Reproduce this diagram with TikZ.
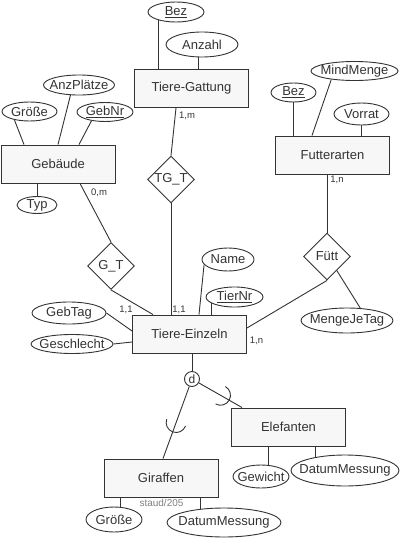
\documentclass[tikz,border=0pt]{standalone}
\usepackage{fontspec}
\setmainfont{Liberation Sans}
\usetikzlibrary{shapes.geometric,calc}
\definecolor{ink}{HTML}{333333}

\begin{document}
\begin{tikzpicture}[x=1pt, y=-1pt, color=ink, line width=0.9pt,
  font=\fontsize{13}{15}\selectfont,
  entity/.style={draw, fill=gray!6, minimum width=114pt, minimum height=38pt, inner sep=0pt},
  rel/.style={draw, diamond, fill=white, minimum width=47pt, minimum height=47pt, inner sep=0pt},
  attrib/.style={draw, ellipse, inner sep=0pt, label={center:#1}},
  card/.style={font=\fontsize{9.5}{10}\selectfont, inner sep=0pt},
  disjoint/.style={draw, circle, minimum size=15pt, inner sep=0pt, font=\fontsize{12}{12}\selectfont}]
  \useasboundingbox (0,0) rectangle (400,538);

  % Entities
  \node[entity] (gattung) at (191.5,88.5) {Tiere-Gattung};
  \node[entity] (gebaeude) at (58,164) {Gebäude};
  \node[entity] (futter) at (332.5,155) {Futterarten};
  \node[entity] (einzeln) at (189.5,334) {Tiere-Einzeln};
  \node[entity] (giraffen) at (161,478) {Giraffen};
  \node[entity] (elefanten) at (288.5,427) {Elefanten};

  % Relationships
  \node[rel] (tgt) at (171,179.5) {TG\_T};
  \node[rel] (gt) at (111,266) {G\_T};
  \node[rel] (futt) at (327,256.5) {Fütt};

  % Attributes
  \node[attrib={\underline{Bez}}, minimum width=56pt, minimum height=20pt] (bezg) at (176,12) {};
  \node[attrib=Anzahl, minimum width=72pt, minimum height=25pt] (anzahl) at (202,44.5) {};
  \node[attrib=AnzPlätze, minimum width=71pt, minimum height=20pt] (anzpl) at (79,85) {};
  \node[attrib=Größe, minimum width=55pt, minimum height=19pt] (groesse) at (29.5,111.5) {};
  \node[attrib={\underline{GebNr}}, minimum width=56pt, minimum height=19pt] (gebnr) at (105,112) {};
  \node[attrib=Typ, minimum width=40pt, minimum height=17pt] (typ) at (37,205) {};
  \node[attrib={\underline{Bez}}, minimum width=45pt, minimum height=19pt] (bezf) at (293.5,92.5) {};
  \node[attrib=MindMenge, minimum width=87pt, minimum height=19pt] (mindmenge) at (354.5,71) {};
  \node[attrib=Vorrat, minimum width=55pt, minimum height=22pt] (vorrat) at (361.5,114) {};
  \node[attrib=Name, minimum width=52pt, minimum height=23pt] (name) at (228,259.5) {};
  \node[attrib={\underline{TierNr}}, minimum width=57pt, minimum height=20pt] (tiernr) at (234.5,297) {};
  \node[attrib=MengeJeTag, minimum width=92pt, minimum height=25pt] (mengejetag) at (347,320.5) {};
  \node[attrib=GebTag, minimum width=74pt, minimum height=22pt] (gebtag) at (69,313) {};
  \node[attrib=Geschlecht, minimum width=82pt, minimum height=19pt] (geschlecht) at (72,344) {};
  \node[attrib=Größe, minimum width=56pt, minimum height=25pt] (groesseg) at (114,519.5) {};
  \node[attrib=DatumMessung, minimum width=114pt, minimum height=29pt] (datumg) at (224,522.5) {};
  \node[attrib=Gewicht, minimum width=56pt, minimum height=23pt] (gewicht) at (261,476.5) {};
  \node[attrib=DatumMessung, minimum width=108pt, minimum height=31pt] (datume) at (345,470.5) {};

  % Specialisation circle
  \node[disjoint] (dcirc) at (192,379) {d};

  % Attribute lines
  \draw (bezg.205) -- (bezg.205 |- gattung.north);
  \draw (anzahl.256) -- (anzahl.256 |- gattung.north);
  \draw (anzpl.230) -- (gebaeude.north);
  \draw (groesse.209) -- ([xshift=-34pt]gebaeude.north);
  \draw (gebnr.213) -- ([xshift=21pt]gebaeude.north);
  \draw (typ) -- (typ |- gebaeude.south);
  \draw (bezf) -- (bezf |- futter.north);
  \draw (mindmenge.200) -- ([xshift=-20.5pt]futter.north);
  \draw (vorrat) -- (vorrat |- futter.north);
  \draw (name.192) -- ([xshift=9.5pt]einzeln.north);
  \draw (tiernr.195) -- (tiernr.195 |- einzeln.north);
  \draw (gebtag.east) -- ([yshift=3pt]einzeln.west);
  \draw (geschlecht.east) -- ([yshift=-8pt]einzeln.west);
  \draw (futt.305) -- (mengejetag.43);
  \draw (groesseg.64) -- (groesseg.64 |- giraffen.south);
  \draw (datumg.150) -- (datumg.150 |- giraffen.south);
  \draw (gewicht.58) -- (gewicht.58 |- elefanten.south);
  \draw (datume.156) -- (datume.156 |- elefanten.south);

  % Relationship lines
  \draw ([xshift=22pt]gebaeude.south) -- (gt.north);
  \draw (gt.south) -- ([xshift=-36.5pt]einzeln.north);
  \draw ([xshift=-15.5pt]gattung.south) -- (tgt.north);
  \draw (tgt.south) -- (tgt.south |- einzeln.north);
  \draw (futt.north |- futter.south) -- (futt.north);
  \draw (futt.south) -- ([yshift=6pt]einzeln.east);

  % Cardinalities
  \node[card] (cgeb) at (99,192.5) {0,m};
  \node[card] (cgt) at (126,309.5) {1,1};
  \node[card] (cgatt) at (187,116) {1,m};
  \node[card] (ctgt) at (179,309.5) {1,1};
  \node[card] (cfutter) at (337,180) {1,n};
  \node[card] (cfutt) at (256.5,341) {1,n};

  % Subclasses
  \draw (dcirc) -- (dcirc |- einzeln.south);
  \draw (dcirc) -- coordinate[pos=0.5] (subg) ([xshift=2pt]giraffen.north);
  \draw (dcirc) -- coordinate[pos=0.5] (sube) ([xshift=11pt]elefanten.north west);
  \draw (subg) ++(160:10pt) arc[start angle=160, end angle=340, radius=10pt];
  \draw (sube) ++(241:10pt) arc[start angle=241, end angle=421, radius=10pt];
  \node[card, text=gray, font=\fontsize{10}{11}\selectfont] (staud) at (161.5,502.5) {staud/205};
\end{tikzpicture}
\end{document}
